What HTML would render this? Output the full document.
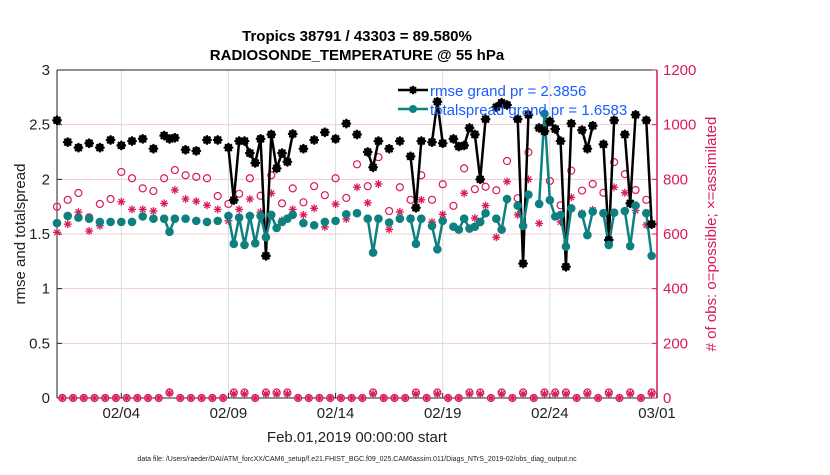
<!DOCTYPE html>
<html><head><meta charset="utf-8"><style>
body{margin:0;background:#fff;font-family:"Liberation Sans",sans-serif}
svg text{font-family:"Liberation Sans",sans-serif}
</style></head><body>
<svg id="chart" width="830" height="470"></svg>
<script>
const slots=[0,2,4,6,8,10,12,14,16,18,20,21,22,24,26,28,30,32,33,34,35,36,37,38,39,40,41,42,43,44,46,48,50,52,54,56,58,59,60,62,64,66,67,68,70,71,72,74,75,76,77,78,79,80,82,83,84,86,87,88,90,91,92,93,94,95,96,98,99,100,102,103,104,106,107,108,110,111];
const rmse=[2.54,2.34,2.29,2.33,2.29,2.36,2.31,2.35,2.37,2.28,2.40,2.37,2.38,2.27,2.26,2.36,2.36,2.29,1.81,2.35,2.35,2.24,2.15,2.37,1.30,2.41,2.10,2.24,2.16,2.415,2.28,2.36,2.43,2.37,2.51,2.41,2.25,2.11,2.35,2.28,2.35,2.21,1.74,2.35,2.34,2.71,2.33,2.37,2.30,2.31,2.47,2.41,2.00,2.55,2.66,2.70,2.68,2.55,1.23,2.59,2.47,2.44,2.53,2.46,2.35,1.20,2.51,2.45,2.28,2.49,2.32,1.445,2.54,2.41,1.78,2.59,2.54,1.59];
const spread=[1.60,1.665,1.65,1.64,1.61,1.61,1.61,1.61,1.66,1.64,1.64,1.52,1.64,1.64,1.62,1.61,1.62,1.665,1.41,1.65,1.40,1.665,1.415,1.665,1.47,1.675,1.555,1.61,1.64,1.675,1.60,1.58,1.61,1.62,1.68,1.69,1.64,1.33,1.64,1.605,1.64,1.64,1.41,1.64,1.574,1.36,1.62,1.567,1.54,1.64,1.55,1.567,1.61,1.69,1.64,1.54,1.82,1.76,1.574,1.86,1.775,2.60,1.81,1.66,1.675,1.385,1.735,1.68,1.49,1.705,1.69,1.40,1.695,1.71,1.39,1.76,1.69,1.30];
const possible=[700,725,750,661,710,728,827,804,767,757,804,834,815,809,804,739,710,747,804,740,815,712,767,716,775,742,804,732,855,775,881,684,771,725,815,725,782,703,840,764,773,760,867,731,899,710,794,705,832,759,783,751,863,819,761,725];
const assimilated=[606,636,680,611,630,644,718,690,690,684,712,761,728,720,705,690,648,690,728,680,749,650,690,670,694,626,709,655,771,714,783,617,681,658,725,644,672,627,749,658,704,588,792,670,800,639,725,644,734,676,688,676,771,751,686,633];
const oddPossible=[0,0,0,0,0,0,0,0,0,0,20,0,0,0,0,0,20,20,0,20,20,20,0,0,0,0,0,0,0,20,0,0,0,20,0,20,0,0,20,20,0,20,0,20,0,20,20,20,0,20,0,20,0,20,0,20];
const oddAssim=[0,0,0,0,0,0,0,0,0,0,18,0,0,0,0,0,15,15,0,15,15,15,0,0,0,0,0,0,0,15,0,0,0,15,0,15,0,0,15,15,0,15,0,15,0,15,15,15,0,15,0,15,0,15,0,15];
const xTickDays=[3,8,13,18,23,28];
const xTickLabels=["02/04","02/09","02/14","02/19","02/24","03/01"];
const yTicks=[0,0.5,1,1.5,2,2.5,3];
const yRightTicks=[0,200,400,600,800,1000,1200];

const NS="http://www.w3.org/2000/svg";
const svg=document.getElementById('chart');
const L=57,R=657,T=70,B=398;
const xs=j=>L+(j/4)*(R-L)/28;
const xd=d=>L+d*(R-L)/28;
const yl=v=>B-(v/3)*(B-T);
const yr=c=>B-(c/1200)*(B-T);
const CR='#d81b55',TE='#0f8080';
function el(tag,attrs,parent){const e=document.createElementNS(NS,tag);for(const k in attrs)e.setAttribute(k,attrs[k]);(parent||svg).appendChild(e);return e;}
function txt(s,attrs){const e=el('text',attrs);e.textContent=s;return e;}

// grid
yRightTicks.forEach(c=>{if(c>0&&c<1200){const g=el('line',{x1:L,x2:R,y1:yr(c),y2:yr(c),stroke:'#f3cbd8','stroke-width':1});

}});
xTickDays.forEach(d=>{if(d<28){const g=el('line',{x1:xd(d),x2:xd(d),y1:T,y2:B,stroke:'#dcdcdc','stroke-width':1});

}});

// axes
let a=el('line',{x1:L,x2:R,y1:T,y2:T,stroke:'#222'});
a=el('line',{x1:L,x2:R,y1:B,y2:B,stroke:'#222'});
a=el('line',{x1:L,x2:L,y1:T,y2:B,stroke:'#222'});
a=el('line',{x1:R,x2:R,y1:T,y2:B,stroke:CR,'stroke-width':1.5});

yTicks.forEach(v=>{el('line',{x1:L,x2:L+5,y1:yl(v),y2:yl(v),stroke:'#222'});
const t=txt(String(v),{x:L-7,y:yl(v)+5,'text-anchor':'end','font-size':15,fill:'#222'});

});
yRightTicks.forEach(c=>{el('line',{x1:R-5,x2:R,y1:yr(c),y2:yr(c),stroke:CR});
const t=txt(String(c),{x:R+6,y:yr(c)+5,'font-size':15,fill:CR});

});
xTickDays.forEach((d,i)=>{el('line',{x1:xd(d),x2:xd(d),y1:B-5,y2:B,stroke:'#222'});
const t=txt(xTickLabels[i],{x:xd(d),y:B+20,'text-anchor':'middle','font-size':15,fill:'#222'});

});

// series lines (connect consecutive 6h slots)
function drawLine(vals,color,name){
 for(let i=1;i<slots.length;i++){if(slots[i]-slots[i-1]===1){
  const s=el('line',{x1:xs(slots[i-1]),y1:yl(vals[i-1]),x2:xs(slots[i]),y2:yl(vals[i]),stroke:color,'stroke-width':2.5});
  
  }}
}
function star(x,y,r,color,filled){
 const g=el('g',{});
 if(filled){el('circle',{cx:x,cy:y,r:r,fill:color},g);}
 for(let k=0;k<4;k++){const an=k*Math.PI/4;el('line',{x1:x-Math.cos(an)*r*1.2,y1:y-Math.sin(an)*r*1.2,x2:x+Math.cos(an)*r*1.2,y2:y+Math.sin(an)*r*1.2,stroke:color,'stroke-width':filled?2:1.3},g);}
 return g;
}
// obs (right axis)
possible.forEach((c,i)=>{const m=el('circle',{cx:xs(i*2),cy:yr(c),r:3.5,fill:'none',stroke:CR,'stroke-width':1.2});

});
assimilated.forEach((c,i)=>{const m=star(xs(i*2),yr(c),3.3,CR,false);

});
oddPossible.forEach((c,i)=>{const m=el('circle',{cx:xs(i*2+1),cy:yr(c),r:3.5,fill:'none',stroke:CR,'stroke-width':1.2});

});
oddAssim.forEach((c,i)=>{const m=star(xs(i*2+1),yr(c),3.3,CR,false);

});

drawLine(rmse,'#000','rmse-line');
drawLine(spread,TE,'spread-line');
rmse.forEach((v,i)=>{const m=star(xs(slots[i]),yl(v),4,'#000',true);

});
spread.forEach((v,i)=>{const m=el('circle',{cx:xs(slots[i]),cy:yl(v),r:4.3,fill:TE});

});

// legend
let lg=el('g',{});
el('line',{x1:398,x2:428,y1:90,y2:90,stroke:'#000','stroke-width':2.5},lg);star(413,90,3.5,'#000',true);
let lt=txt('rmse grand pr = 2.3856',{x:430,y:96,'font-size':15,fill:'#1a5cff'});
lg=el('g',{});
el('line',{x1:398,x2:428,y1:109,y2:109,stroke:TE,'stroke-width':2.5},lg);el('circle',{cx:413,cy:109,r:4,fill:TE},lg);
lt=txt('totalspread grand pr = 1.6583',{x:430,y:115,'font-size':15,fill:'#1a5cff'});

// titles
let t=txt('Tropics 38791 / 43303 = 89.580%',{x:357,y:41,'text-anchor':'middle','font-size':15,'font-weight':'bold',fill:'#000'});
t=txt('RADIOSONDE_TEMPERATURE @ 55 hPa',{x:357,y:60,'text-anchor':'middle','font-size':15,'font-weight':'bold',fill:'#000'});
t=txt('Feb.01,2019 00:00:00 start',{x:357,y:442,'text-anchor':'middle','font-size':15,fill:'#222'});
t=txt('rmse and totalspread',{x:0,y:0,'text-anchor':'middle','font-size':15,fill:'#222',transform:'translate(25,234) rotate(-90)'});
t=txt('# of obs: o=possible; \u00d7=assimilated',{x:0,y:0,'text-anchor':'middle','font-size':15,fill:CR,transform:'translate(716,234) rotate(-90)'});
t=txt('data file: /Users/raeder/DAI/ATM_forcXX/CAM6_setup/f.e21.FHIST_BGC.f09_025.CAM6assim.011/Diags_NTrS_2019-02/obs_diag_output.nc',{x:357,y:461,'text-anchor':'middle','font-size':7,fill:'#222'});
</script>
</body></html>
